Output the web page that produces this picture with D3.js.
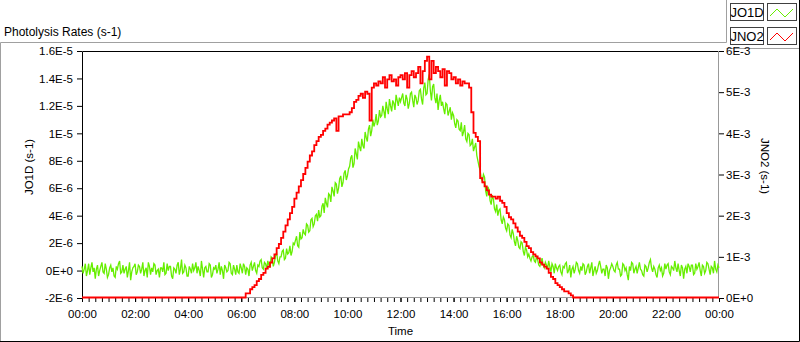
<!DOCTYPE html>
<html>
<head>
<meta charset="utf-8">
<script src="https://cdn.jsdelivr.net/npm/d3@7"></script>
<style>
    body { margin: 0; background: #fff; }
    svg { display: block; font-family: "Liberation Sans", Arial, sans-serif; }
</style>
</head>
<body>
<div id="chart"></div>
<script>
// JO1D in units of 1E-6 s-1, read on the full 5 minute marks from 00:00 to 24:00
const jo1d = [
    0.3, 0.1, -0.4, 0.5, 0.2, -0.1, -0.6, 0.4, 0.0, 0.6, -0.2, 0.1,
    -0.3, 0.4, 0.2, -0.5, 0.1, 0.7, -0.1, -0.2, 0.3, 0.0, -0.7, 0.2,
    0.5, -0.1, 0.3, 0.1, -0.4, 0.2, 0.6, -0.3, -0.1, 0.4, 0.0, -0.5,
    0.2, 0.6, -0.2, 0.0, 0.3, -0.6, 0.1, 0.4, -0.3, 0.8, -0.1, 0.2,
    -0.4, 0.1, 0.5, 0.2, -0.2, 0.0, 0.7, -0.5, 0.3, -0.1, 0.4, -0.3,
    0.1, -0.2, 0.6, 0.3, -0.6, 0.2, 0.0, 0.5, -0.3, 0.1, 0.4, -0.2,
    0.2, 0.5, -0.3, 0.1, 0.4, 0.0, 0.6, -0.2, 0.3, 0.8, 0.1, 0.5,
    0.7, 0.2, 0.9, 0.6, 1.3, 0.5, 1.0, 1.5, 0.9, 1.2, 1.8, 1.4,
    1.9, 2.5, 1.7, 2.3, 3.0, 2.6, 3.3, 2.9, 3.8, 3.4, 4.1, 4.4,
    4.0, 4.9, 5.3, 4.6, 5.5, 6.1, 5.4, 6.3, 6.0, 6.9, 6.4, 7.3,
    6.9, 7.6, 8.4, 7.8, 8.5, 9.4, 8.7, 9.1, 10.1, 9.4, 10.6, 10.2,
    10.5, 11.4, 10.9, 11.2, 12.0, 11.1, 11.8, 12.5, 11.6, 12.2, 12.8, 12.0,
    12.3, 12.9, 12.0, 12.5, 12.2, 13.0, 11.9, 12.6, 12.4, 13.2, 12.1, 13.7,
    12.9, 14.3, 12.4, 13.6, 12.2, 11.7, 12.8, 12.3, 11.4, 12.1, 11.6, 11.0,
    11.3, 10.4, 10.9, 10.2, 9.8, 10.6, 9.4, 9.9, 9.2, 8.7, 9.3, 8.0,
    7.3, 6.5, 6.8, 5.4, 5.9, 4.8, 5.2, 4.3, 4.0, 4.5, 3.4, 3.7,
    2.9, 3.3, 2.4, 2.7, 1.8, 2.2, 1.6, 2.0, 1.1, 1.5, 1.2, 0.7,
    1.1, 0.6, 0.8, 0.3, 0.9, 0.2, 0.4, 0.7, -0.1, 0.3, 0.5, 0.0,
    0.4, -0.3, 0.2, 0.6, 0.0, -0.5, 0.3, 0.1, 0.5, -0.2, 0.0, 0.4,
    -0.1, 0.5, 0.2, -0.4, 0.3, 0.0, 0.7, -0.2, 0.1, 0.4, -0.6, 0.2,
    0.3, -0.1, 0.6, 0.1, -0.3, 0.4, 0.2, -0.7, 0.0, 0.5, 0.1, -0.2,
    0.6, 0.0, -0.4, 0.3, 0.2, 0.8, -0.1, 0.1, -0.5, 0.4, 0.2, -0.2,
    0.1, 0.5, -0.3, 0.2, 0.7, -0.1, 0.0, 0.4, -0.6, 0.3, 0.5, -0.1,
    0.4, -0.2, 0.1, 0.6, -0.4, 0.3, 0.0, 0.5, -0.3, 0.2, 0.7, -0.1,
    0.2
];

// JO1D in units of 1E-6 s-1, read half way between the 5 minute marks (00:02:30 ... 23:57:30)
const jo1dMid = [
    -0.2, 0.5, 0.0, -0.3, 0.6, 0.2, 0.1, -0.4, 0.3, -0.1, 0.5, -0.5,
    0.2, -0.1, -0.4, 0.3, 0.5, -0.2, 0.4, 0.1, -0.5, 0.6, -0.1, 0.3,
    -0.3, 0.4, -0.2, 0.6, 0.0, -0.5, 0.3, 0.2, 0.5, -0.3, 0.1, 0.2,
    -0.1, -0.3, 0.5, 0.3, -0.4, 0.2, -0.2, 0.6, 0.1, -0.2, 0.4, -0.4,
    0.3, -0.2, 0.0, 0.6, 0.3, -0.4, 0.1, 0.2, -0.1, 0.5, -0.5, 0.2,
    0.4, 0.1, -0.3, 0.0, 0.4, -0.1, 0.6, -0.2, 0.4, -0.3, -0.1, 0.5,
    -0.2, 0.3, 0.2, -0.4, 0.6, 0.3, 0.0, 0.4, 0.7, 0.2, 0.6, 0.1,
    0.4, 1.0, 0.3, 1.1, 0.7, 1.0, 1.4, 0.8, 1.6, 1.3, 1.1, 2.0,
    2.2, 1.8, 2.8, 2.4, 2.7, 3.4, 2.8, 3.7, 3.2, 4.0, 3.6, 3.9,
    4.7, 4.2, 4.9, 5.6, 5.0, 5.8, 6.4, 5.6, 6.7, 6.1, 7.1, 6.6,
    7.4, 8.2, 7.5, 8.9, 8.1, 9.0, 9.6, 8.9, 9.7, 10.3, 9.8, 11.0,
    10.8, 10.6, 11.7, 11.3, 11.6, 12.3, 11.4, 12.0, 12.4, 11.7, 12.4, 12.6,
    12.6, 12.2, 12.8, 11.8, 12.9, 12.4, 12.8, 12.1, 13.1, 12.5, 13.3, 12.8,
    13.9, 13.1, 13.4, 12.6, 12.9, 12.4, 12.0, 11.8, 12.2, 11.3, 11.9, 11.5,
    10.7, 11.0, 10.3, 10.8, 10.1, 9.6, 10.0, 9.1, 9.6, 9.0, 8.4, 7.6,
    6.7, 7.0, 5.8, 6.1, 5.1, 5.5, 4.5, 4.8, 4.4, 3.7, 3.9, 3.1,
    3.4, 2.6, 3.0, 2.1, 2.5, 1.7, 2.1, 1.4, 1.7, 1.0, 0.9, 1.0,
    0.7, 1.0, 0.4, 0.6, 0.4, 0.6, 0.1, 0.3, 0.5, -0.2, 0.2, 0.3,
    -0.1, 0.3, 0.5, -0.2, 0.4, 0.1, -0.2, 0.6, 0.0, 0.3, 0.5, -0.3,
    0.3, -0.2, 0.6, 0.0, -0.2, 0.4, 0.3, 0.1, -0.4, 0.2, 0.0, 0.5,
    0.0, 0.4, 0.1, -0.4, 0.5, 0.0, -0.3, 0.3, 0.6, -0.2, 0.3, 0.2,
    0.1, -0.3, 0.4, -0.1, 0.6, 0.2, 0.3, -0.3, 0.2, 0.0, -0.4, 0.5,
    0.4, -0.1, 0.3, 0.0, 0.2, 0.5, -0.4, 0.2, 0.1, -0.2, 0.3, 0.4,
    -0.3, 0.5, 0.3, 0.0, 0.4, -0.2, 0.6, 0.1, 0.3, -0.2, 0.1, 0.4
];

// JNO2 in units of 1E-3 s-1, 5 minute steps
const jno2 = [
    0, 0, 0, 0, 0, 0, 0, 0, 0, 0, 0, 0,
    0, 0, 0, 0, 0, 0, 0, 0, 0, 0, 0, 0,
    0, 0, 0, 0, 0, 0, 0, 0, 0, 0, 0, 0,
    0, 0, 0, 0, 0, 0, 0, 0, 0, 0, 0, 0,
    0, 0, 0, 0, 0, 0, 0, 0, 0, 0, 0, 0,
    0, 0, 0, 0, 0, 0, 0, 0, 0, 0, 0, 0,
    0, 0, 0.1, 0.1, 0.2, 0.25, 0.3, 0.4, 0.45, 0.55, 0.6, 0.7,
    0.75, 0.85, 0.95, 1.05, 1.2, 1.3, 1.45, 1.6, 1.75, 1.9, 2.05, 2.2,
    2.4, 2.55, 2.7, 2.85, 3.0, 3.15, 3.3, 3.45, 3.55, 3.7, 3.8, 3.9,
    3.95, 4.05, 4.1, 4.2, 4.25, 4.3, 4.35, 4.05, 4.4, 4.4, 4.45, 4.45,
    4.45, 4.5, 4.6, 4.75, 4.8, 4.9, 4.95, 4.85, 5.0, 4.95, 4.3, 5.1,
    5.2, 5.15, 5.25, 5.2, 5.35, 5.1, 5.3, 5.4, 5.25, 5.3, 5.15, 5.35,
    5.4, 5.3, 5.45, 5.1, 5.4, 5.5, 5.35, 5.45, 5.6, 5.2, 5.5, 5.75,
    5.85, 5.3, 5.75, 5.45, 5.6, 5.5, 5.35, 5.55, 5.15, 5.5, 5.45, 5.3,
    5.35, 5.2, 5.3, 5.15, 5.25, 5.2, 5.2, 5.1, 4.5, 4.0, 3.9, 3.8,
    2.9, 2.8, 2.7, 2.6, 2.5, 2.45, 2.45, 2.4, 2.45, 2.35, 2.3, 2.2,
    2.05, 1.95, 1.9, 1.8, 1.7, 1.6, 1.5, 1.45, 1.35, 1.25, 1.2, 1.1,
    1.05, 1.0, 0.95, 0.85, 0.8, 0.75, 0.7, 0.6, 0.5, 0.45, 0.35, 0.3,
    0.25, 0.2, 0.15, 0.15, 0.1, 0.05, 0, 0, 0, 0, 0, 0,
    0, 0, 0, 0, 0, 0, 0, 0, 0, 0, 0, 0,
    0, 0, 0, 0, 0, 0, 0, 0, 0, 0, 0, 0,
    0, 0, 0, 0, 0, 0, 0, 0, 0, 0, 0, 0,
    0, 0, 0, 0, 0, 0, 0, 0, 0, 0, 0, 0,
    0, 0, 0, 0, 0, 0, 0, 0, 0, 0, 0, 0,
    0
];

const leftTicks = [-2, 0, 2, 4, 6, 8, 10, 12, 14, 16];
const leftLabels = ["-2E-6", "0E+0", "2E-6", "4E-6", "6E-6", "8E-6", "1E-5", "1.2E-5", "1.4E-5", "1.6E-5"];
const rightTicks = [0, 1, 2, 3, 4, 5, 6];
const rightLabels = ["0E+0", "1E-3", "2E-3", "3E-3", "4E-3", "5E-3", "6E-3"];
const seriesNames = ["JO1D", "JNO2"];
const stepMinutes = 5;

const width = 800;
const height = 342;
const plot = { left: 82, right: 719, top: 51, bottom: 298 };
const green = "#66ee00";
const red = "#ff0000";
const frameGray = "#a0a0a0";
const fontSize = "11.5px";

const day0 = new Date(2020, 0, 1, 0, 0);
const day1 = new Date(2020, 0, 2, 0, 0);
const atMinute = m => new Date(day0.getTime() + m * 60000);

// merge full and half-step JO1D readings into one time ordered series
const jo1dSeries = [];
jo1d.forEach((v, i) => {
    jo1dSeries.push({ t: atMinute(i * stepMinutes), v: v });
    if (i < jo1dMid.length) {
        jo1dSeries.push({ t: atMinute(i * stepMinutes + stepMinutes / 2), v: jo1dMid[i] });
    }
});
const jno2Series = jno2.map((v, i) => ({ t: atMinute(i * stepMinutes), v: v }));

const svg = d3.select("#chart")
    .append("svg")
    .attr("width", width)
    .attr("height", height);

// panel frame
svg.append("path")
    .attr("d", "M0.5,342 V42.5 H726.5 V0")
    .attr("fill", "none")
    .attr("stroke", frameGray);
svg.append("path")
    .attr("d", "M726.5,48.5 H799.5")
    .attr("fill", "none")
    .attr("stroke", frameGray);
svg.append("path")
    .attr("d", "M799.5,0 V341.5 H0")
    .attr("fill", "none")
    .attr("stroke", "#000");

svg.append("text")
    .attr("x", 4)
    .attr("y", 36)
    .style("font-size", "12px")
    .attr("fill", "#000")
    .text("Photolysis Rates (s-1)");

// scales
const x = d3.scaleTime().domain([day0, day1]).range([plot.left, plot.right]);
const yL = d3.scaleLinear().domain([-2, 16]).range([plot.bottom, plot.top]);
const yR = d3.scaleLinear().domain([0, 6]).range([plot.bottom, plot.top]);

// plot border
svg.append("path")
    .attr("d", `M${plot.left + 0.5},${plot.bottom} V${plot.top + 0.5} H${plot.right}`)
    .attr("fill", "none")
    .attr("stroke", "#000");
svg.append("path")
    .attr("d", `M${plot.left + 1},${plot.bottom - 0.5} H${plot.right - 0.5} V${plot.top}`)
    .attr("fill", "none")
    .attr("stroke", "#999");

// left axis
const leftAxis = svg.append("g")
    .attr("transform", `translate(${plot.left},0)`)
    .call(d3.axisLeft(yL).tickValues(leftTicks).tickSize(5).tickPadding(4)
        .tickFormat((d, i) => leftLabels[i]));
leftAxis.select(".domain").remove();

// right axis
const rightAxis = svg.append("g")
    .attr("transform", `translate(${plot.right},0)`)
    .call(d3.axisRight(yR).tickValues(rightTicks).tickSize(5).tickPadding(2)
        .tickFormat((d, i) => rightLabels[i]));
rightAxis.select(".domain").remove();

// bottom axis: minor ticks every 15 minutes, labels every 2 hours
const minorAxis = svg.append("g")
    .attr("transform", `translate(0,${plot.bottom})`)
    .call(d3.axisBottom(x).tickValues(d3.timeMinute.every(15).range(day0, new Date(day1.getTime() + 1)))
        .tickSize(4).tickFormat(""));
minorAxis.select(".domain").remove();
const bottomAxis = svg.append("g")
    .attr("transform", `translate(0,${plot.bottom})`)
    .call(d3.axisBottom(x).tickValues(d3.timeHour.every(2).range(day0, new Date(day1.getTime() + 1)))
        .tickSize(4).tickPadding(8).tickFormat(d3.timeFormat("%H:%M")));
bottomAxis.select(".domain").remove();

svg.selectAll(".tick text")
    .style("font-size", fontSize)
    .style("font-family", "inherit")
    .attr("fill", "#000");
svg.selectAll(".tick line").attr("stroke", "#000");

// axis titles
svg.append("text")
    .attr("x", (plot.left + plot.right) / 2)
    .attr("y", 335)
    .attr("text-anchor", "middle")
    .style("font-size", fontSize)
    .text("Time");
svg.append("text")
    .attr("transform", `translate(33,167) rotate(-90)`)
    .attr("text-anchor", "middle")
    .style("font-size", fontSize)
    .text("JO1D (s-1)");
svg.append("text")
    .attr("transform", `translate(761,166) rotate(90)`)
    .attr("text-anchor", "middle")
    .style("font-size", fontSize)
    .text("JNO2 (s-1)");

// plots
const plotArea = svg.append("g");
plotArea.append("path")
    .datum(jo1dSeries)
    .attr("fill", "none")
    .attr("stroke", green)
    .attr("stroke-width", 1.3)
    .attr("d", d3.line().x(d => x(d.t)).y(d => yL(d.v)));
plotArea.append("path")
    .datum(jno2Series)
    .attr("fill", "none")
    .attr("stroke", red)
    .attr("stroke-width", 1.8)
    .attr("d", d3.line().curve(d3.curveStepAfter).x(d => x(d.t)).y(d => yR(d.v) - 0.5));

// legend
const legendColors = [green, red];
seriesNames.forEach((name, i) => {
    const top = 3 + i * 24;
    const g = svg.append("g").attr("transform", `translate(730,${top})`);
    g.append("rect")
        .attr("x", 0.5).attr("y", 0.5)
        .attr("width", 33).attr("height", 17)
        .attr("fill", "#fff")
        .attr("stroke", "#404040");
    g.append("text")
        .attr("x", 17).attr("y", 14)
        .attr("text-anchor", "middle")
        .style("font-size", "13px")
        .text(name);
    g.append("rect")
        .attr("x", 37.5).attr("y", 0.5)
        .attr("width", 29).attr("height", 17)
        .attr("fill", "#fff")
        .attr("stroke", "#404040");
    g.append("path")
        .attr("d", "M40,13 L47,6 L55,14 L63,6")
        .attr("fill", "none")
        .attr("stroke", legendColors[i])
        .attr("stroke-width", 1);
});
</script>
</body>
</html>
